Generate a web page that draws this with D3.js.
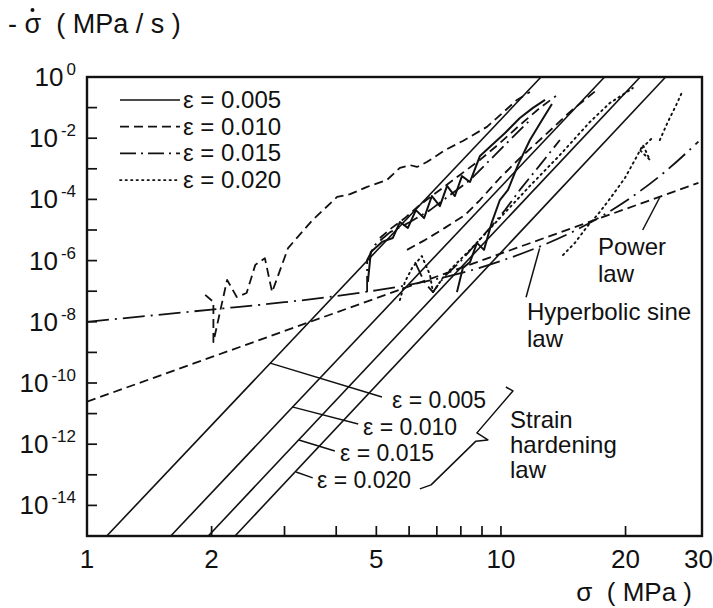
<!DOCTYPE html>
<html>
<head>
<meta charset="utf-8">
<script src="https://cdn.jsdelivr.net/npm/d3@7"></script>
<style>
  body { margin: 0; background: #fff; }
  text { font-family: "Liberation Sans", Arial, sans-serif; fill: #111; }
</style>
</head>
<body>
<div id="chart"></div>
<script>
// all points are [sigma (MPa), log10(-dsigma/dt in MPa/s)]
const xTickLabels = [1, 2, 5, 10, 20, 30];
const xMinorTicks = [2, 3, 4, 5, 6, 7, 8, 9, 10, 20];
const yLabelExps = [0, -2, -4, -6, -8, -10, -12, -14];
const yMinorExps = d3.range(-14, 0);

const strainNames = ['ε = 0.005', 'ε = 0.010', 'ε = 0.015', 'ε = 0.020'];

// strain hardening law, one straight line per strain
const hard005 = [[1.116, -15], [12.5, 0]];
const hard010 = [[1.593, -15], [17.8, 0]];
const hard015 = [[1.963, -15], [21.7, 0]];
const hard020 = [[2.278, -15], [25.0, 0]];

const powerLaw = [[1, -10.61], [30, -3.46]];
const sinhLaw = [[1, -8.0], [2, -7.6], [3, -7.36], [4, -7.16], [5, -6.97], [6, -6.79], [7, -6.6],
  [8, -6.41], [10, -6.01], [12, -5.62], [15, -5.04], [20, -4.06], [25, -3.08], [30, -2.11]];

// measured relaxation curves
const meas005a = [[4.77, -6.70], [4.85, -5.72], [5.16, -5.39], [5.48, -5.26], [5.70, -4.74], [5.96, -4.93],
  [6.23, -4.35], [6.52, -4.61], [6.81, -3.89], [7.12, -4.22], [7.41, -3.56], [7.74, -3.89], [8.05, -3.24],
  [8.42, -3.43], [8.90, -2.58], [9.51, -2.22], [10.23, -1.83], [11.11, -1.34], [11.95, -1.01], [12.78, -0.75]];
const meas005b = [[7.83, -7.03], [8.09, -6.24], [8.42, -6.05], [8.75, -5.42], [9.10, -5.65], [9.51, -4.74],
  [9.94, -4.02], [10.40, -3.69], [10.99, -2.88], [11.75, -2.06], [12.56, -1.41], [13.28, -0.88]];
const meas010a = [[1.93, -7.12], [2.02, -7.35], [2.02, -8.66], [2.18, -6.63], [2.30, -7.19], [2.43, -7.06],
  [2.55, -6.14], [2.69, -5.92], [2.80, -7.03], [3.06, -5.59], [3.51, -4.67], [4.02, -3.92], [4.32, -3.83],
  [4.75, -3.59], [5.30, -3.37], [5.70, -2.97], [6.03, -2.88], [6.27, -2.94], [6.62, -2.78], [7.32, -2.39],
  [8.09, -2.09], [9.25, -1.63], [10.93, -0.75], [11.75, -0.49]];
const meas010b = [[5.10, -5.26], [5.45, -4.93], [5.86, -4.61], [6.37, -4.18], [7.12, -3.69], [7.96, -3.20],
  [8.90, -2.71], [9.94, -2.16], [11.11, -1.57], [12.42, -1.01], [13.58, -0.62]];
const meas010c = [[5.93, -5.65], [6.55, -5.33], [7.32, -4.93], [8.19, -4.51], [8.90, -4.02], [9.94, -3.30],
  [11.11, -2.65], [12.78, -1.90], [14.68, -1.14], [17.06, -0.42]];
const meas015a = [[4.75, -7.03], [4.75, -5.98], [4.96, -5.49], [5.40, -5.07], [6.03, -4.74], [6.74, -4.35],
  [7.53, -3.86], [8.42, -3.37], [9.41, -2.71], [10.51, -2.06], [11.75, -1.41]];
const meas015b = [[6.20, -6.05], [6.55, -6.73], [6.85, -7.03], [7.32, -6.50], [7.96, -6.05], [8.65, -5.49],
  [9.41, -4.93], [10.23, -4.35], [11.11, -3.69], [12.42, -2.88], [13.88, -2.06]];
const meas020a = [[5.70, -7.29], [5.86, -6.70], [6.10, -6.24], [6.44, -5.85], [6.74, -6.47], [6.85, -7.03],
  [7.32, -6.47], [8.42, -5.65], [9.94, -4.61], [11.75, -3.56], [13.88, -2.55], [16.40, -1.47],
  [18.33, -0.85], [20.83, -0.36]];
const meas020b = [[14.12, -5.82], [15.09, -5.42], [16.13, -4.90], [17.34, -4.41], [18.54, -3.89], [19.93, -3.30],
  [21.07, -2.71], [22.03, -2.22], [22.9, -2.71], [21.67, -2.39], [23.2, -1.99]];
const meas020c = [[24.2, -2.06], [25.3, -1.47], [26.5, -0.92], [27.4, -0.49]];

const width = 713;
const height = 608;

const svg = d3.select('#chart')
  .append('svg')
  .attr('width', width)
  .attr('height', height);

const x = d3.scaleLog().domain([1, 30.6]).range([87, 702]);
const y = d3.scaleLog().domain([1e-15, 1]).range([536, 77]);
const [x0, x1] = x.range();
const [yb, yt] = y.range();

svg.append('clipPath').attr('id', 'plot')
  .append('rect')
  .attr('x', x0).attr('y', yt)
  .attr('width', x1 - x0).attr('height', yb - yt);

const line = d3.line()
  .x(d => x(d[0]))
  .y(d => y(Math.pow(10, d[1])));

const styles = {
  solid: null,
  dashed: '9,5',
  dashdot: '16,5,2,5',
  dotted: '1.5,4'
};

const plot = svg.append('g').attr('clip-path', 'url(#plot)');

function draw(g, data, style, w) {
  g.append('path')
    .datum(data)
    .attr('d', line)
    .style('fill', 'none')
    .style('stroke', '#111')
    .style('stroke-width', w || 1.7)
    .style('stroke-linecap', style === 'dotted' ? 'round' : 'butt')
    .style('stroke-linejoin', 'round')
    .style('stroke-dasharray', styles[style]);
}

[hard005, hard010, hard015, hard020].forEach(d => draw(plot, d, 'solid', 1.6));
draw(plot, powerLaw, 'dashed', 1.8);
const sinhPath = d3.line().x(d => x(d[0])).y(d => y(Math.pow(10, d[1]))).curve(d3.curveMonotoneX);
plot.append('path').datum(sinhLaw).attr('d', sinhPath)
  .style('fill', 'none').style('stroke', '#111').style('stroke-width', 1.8)
  .style('stroke-dasharray', '22,6,2,6');

draw(plot, meas005a, 'solid', 2);
draw(plot, meas005b, 'solid', 2);
draw(plot, meas010a, 'dashed', 1.8);
draw(plot, meas010b, 'dashed', 1.8);
draw(plot, meas010c, 'dashed', 1.8);
draw(plot, meas015a, 'dashdot', 1.8);
draw(plot, meas015b, 'dashdot', 1.8);
draw(plot, meas020a, 'dotted', 1.9);
draw(plot, meas020b, 'dotted', 1.9);
draw(plot, meas020c, 'dotted', 1.9);

// frame
svg.append('rect')
  .attr('x', x0).attr('y', yt)
  .attr('width', x1 - x0).attr('height', yb - yt)
  .style('fill', 'none').style('stroke', '#111').style('stroke-width', 2.4);

// ticks pointing inward
svg.selectAll('.xt').data(xMinorTicks).join('line')
  .attr('x1', d => x(d)).attr('x2', d => x(d))
  .attr('y1', yb).attr('y2', yb - 10)
  .style('stroke', '#111').style('stroke-width', 1.7);
svg.selectAll('.yt').data(yMinorExps).join('line')
  .attr('x1', x0).attr('x2', x0 + 10)
  .attr('y1', d => y(Math.pow(10, d))).attr('y2', d => y(Math.pow(10, d)))
  .style('stroke', '#111').style('stroke-width', 1.7);

svg.selectAll('.xl').data(xTickLabels).join('text')
  .attr('x', d => x(d)).attr('y', 568)
  .attr('text-anchor', 'middle')
  .style('font-size', '26px')
  .text(d => d);

const yl = svg.selectAll('.yl').data(yLabelExps).join('text')
  .attr('x', 76).attr('y', d => y(Math.pow(10, d)) + 9)
  .attr('text-anchor', 'end')
  .style('font-size', '26px');
yl.append('tspan').text('10');
yl.append('tspan').attr('dy', -11).attr('dx', 3).style('font-size', '17px')
  .text(d => d === 0 ? '0' : '-' + Math.abs(d));

// axis titles
const yTitle = svg.append('text').attr('x', 8).attr('y', 33).style('font-size', '27px')
  .attr('xml:space', 'preserve').text('- σ  ( MPa / s )');
const sig = yTitle.node().getStartPositionOfChar(2);
svg.append('circle').attr('cx', sig.x + 8).attr('cy', 10).attr('r', 2).style('fill', '#111');

svg.append('text').attr('x', 692).attr('y', 601).attr('text-anchor', 'end')
  .style('font-size', '26px').attr('xml:space', 'preserve').text('σ  ( MPa )');

// legend
const legendStyles = ['solid', 'dashed', 'dashdot', 'dotted'];
const lg = svg.append('g');
strainNames.forEach((name, i) => {
  const yy = 100 + i * 26.7;
  lg.append('line').attr('x1', 120).attr('x2', 180).attr('y1', yy).attr('y2', yy)
    .style('stroke', '#111').style('stroke-width', 1.7)
    .style('stroke-linecap', legendStyles[i] === 'dotted' ? 'round' : 'butt')
    .style('stroke-dasharray', styles[legendStyles[i]]);
  lg.append('text').attr('x', 183).attr('y', yy + 8).style('font-size', '24px').text(name);
});

// strain hardening labels and leaders
const leaders = [
  [[2.77, -9.35], [5.16, -10.46]],
  [[3.13, -10.78], [4.52, -11.34]],
  [[3.25, -11.86], [3.97, -12.22]],
  [[3.20, -12.91], [3.51, -13.10]]
];
const labelPos = [[392, 408], [363, 435], [340, 461], [317, 488]];
leaders.forEach((d, i) => {
  draw(svg, d, 'solid', 1.5);
  svg.append('text').attr('x', labelPos[i][0]).attr('y', labelPos[i][1])
    .style('font-size', '23px').text(strainNames[i]);
});

const brace = [[10.28, -10.13], [10.69, -10.26], [8.75, -11.63], [9.30, -11.86], [8.70, -11.90],
  [6.78, -13.33], [6.37, -13.46]];
draw(svg, brace, 'solid', 1.5);

function label(lines, xx, yy, step) {
  lines.forEach((t, i) => {
    svg.append('text').attr('x', xx).attr('y', yy + i * step).style('font-size', '24px').text(t);
  });
}
label(['Strain', 'hardening', 'law'], 510, 428, 25);
label(['Power', 'law'], 598, 255, 27);
label(['Hyperbolic sine', 'law'], 527, 320, 27);

draw(svg, [[24.2, -3.93], [22.0, -5.0]], 'solid', 1.5);
draw(svg, [[12.4, -5.6], [11.5, -7.2]], 'solid', 1.5);
</script>
</body>
</html>
